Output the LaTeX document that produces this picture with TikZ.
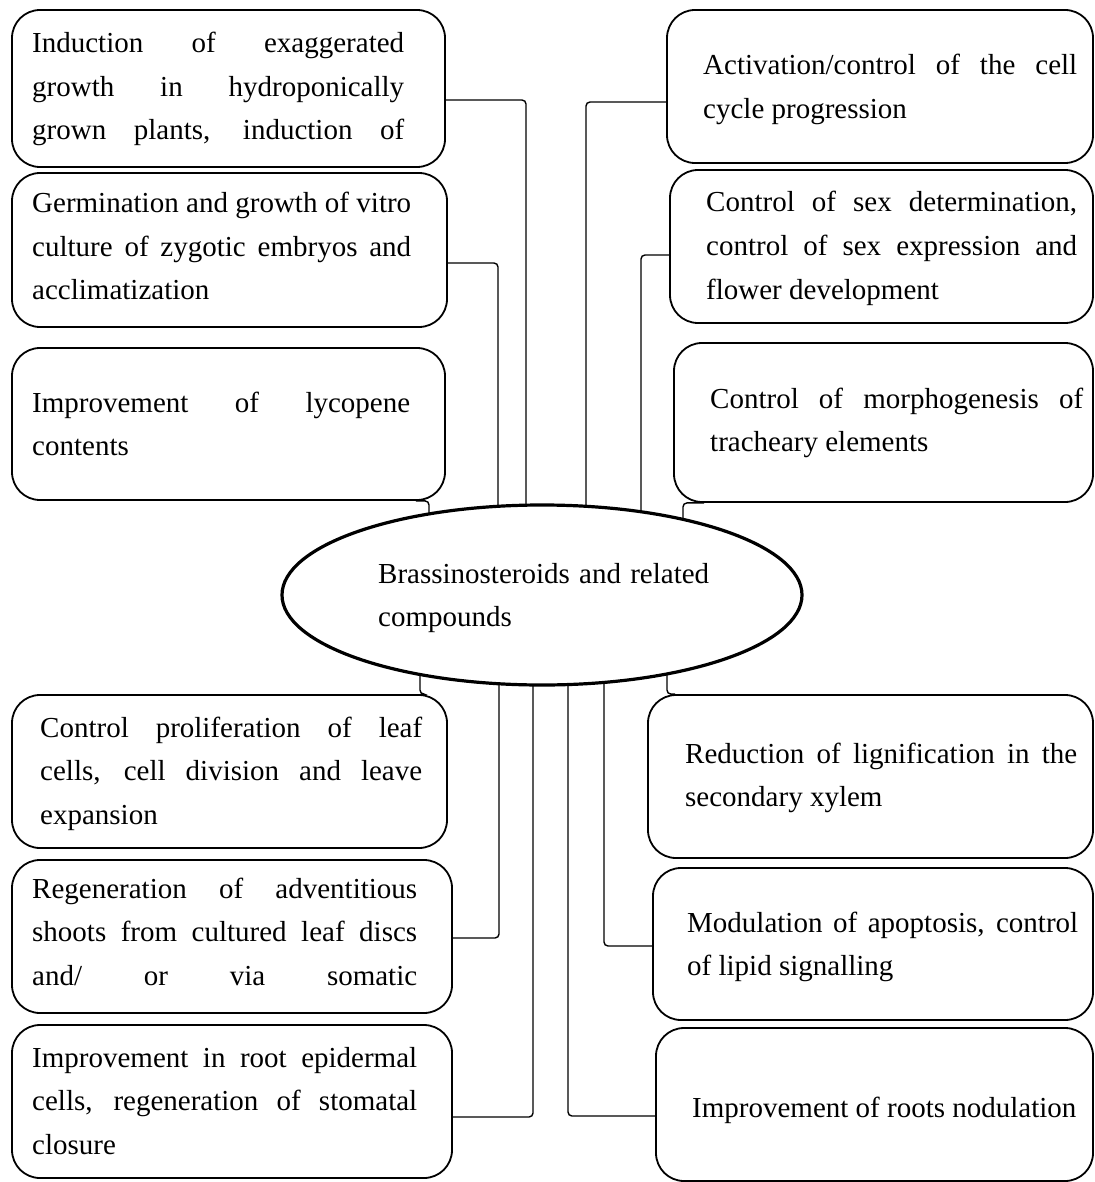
\documentclass[tikz,border=0pt]{standalone}
\usepackage{fontspec}
\setmainfont{Liberation Serif}
\usetikzlibrary{shapes.geometric}
\newcommand\JLine[2]{\hbox to #1{#2}}
\newcommand\LLine[1]{\hbox{#1}}
\newcommand\TxtLines[1]{\vtop{\baselineskip=43.5pt\lineskiplimit=-100pt\lineskip=0pt #1}}
\begin{document}
\begin{tikzpicture}[x=1pt,y=-1pt,
  box/.style={draw, line width=1.8pt, rounded corners=28pt, rectangle, inner sep=0pt},
  conn/.style={draw, line width=1.4pt, rounded corners=4pt},
  txt/.style={anchor=base west, inner sep=0pt, font=\fontsize{29}{43.5}\selectfont},
  oval/.style={draw, ellipse, line width=3.2pt, inner sep=0pt}]
\useasboundingbox (0,0) rectangle (1094,1182);
% left boxes
\node[box, minimum width=433pt, minimum height=157pt] (l1) at (228.5,88.5) {};
\node[box, minimum width=435pt, minimum height=154pt] (l2) at (229.5,250) {};
\node[box, minimum width=433pt, minimum height=152pt] (l3) at (228.5,424) {};
\node[box, minimum width=435pt, minimum height=153pt] (l4) at (229.5,771.5) {};
\node[box, minimum width=440pt, minimum height=153pt] (l5) at (232,936.5) {};
\node[box, minimum width=440pt, minimum height=153pt] (l6) at (232,1101.5) {};
% right boxes
\node[box, minimum width=426pt, minimum height=153pt] (r1) at (880,86.5) {};
\node[box, minimum width=423pt, minimum height=153pt] (r2) at (881.5,246.5) {};
\node[box, minimum width=419pt, minimum height=159pt] (r3) at (883.5,422.5) {};
\node[box, minimum width=445pt, minimum height=163pt] (r4) at (870.5,776.5) {};
\node[box, minimum width=440pt, minimum height=152pt] (r5) at (873,944) {};
\node[box, minimum width=437pt, minimum height=153pt] (r6) at (874.5,1104.5) {};
% central ellipse
\node[oval, minimum width=520pt, minimum height=180pt] (el) at (542,595) {};
% points on the ellipse
\coordinate (e1) at (526,505.2);
\coordinate (e2) at (498,506.3);
\coordinate (e3) at (429,514);
\coordinate (e4) at (586,506.3);
\coordinate (e5) at (641,511.8);
\coordinate (e6) at (683,519.4);
\coordinate (e7) at (420,674.5);
\coordinate (e8) at (499,683.8);
\coordinate (e9) at (533,685);
\coordinate (e10) at (568,684.5);
\coordinate (e11) at (604,682.4);
\coordinate (e12) at (667,673.9);
% connectors
\draw[conn] ([yshift=-11.5pt]l1.east) -| (e1);
\draw[conn] ([yshift=-13pt]l2.east) -| (e2);
\draw[conn] ([xshift=-30pt]l3.south east) -| (e3);
\draw[conn] ([yshift=-15.5pt]r1.west) -| (e4);
\draw[conn] ([yshift=-8.5pt]r2.west) -| (e5);
\draw[conn] ([xshift=31pt]r3.south west) -| (e6);
\draw[conn] ([xshift=-27pt]l4.north east) -| (e7);
\draw[conn] ([yshift=-1.5pt]l5.east) -| (e8);
\draw[conn] ([yshift=-15.5pt]l6.east) -| (e9);
\draw[conn] ([yshift=-11.5pt]r6.west) -| (e10);
\draw[conn] ([yshift=-2pt]r5.west) -| (e11);
\draw[conn] ([xshift=28pt]r4.north west) -| (e12);
% texts
\node[txt] (tl1) at (32,53) {\TxtLines{\JLine{372pt}{Induction of exaggerated}\JLine{372pt}{growth in hydroponically}\JLine{372pt}{grown plants, induction of}}};
\node[txt] (tl2) at (32,213) {\TxtLines{\JLine{379pt}{Germination and growth of vitro}\JLine{379pt}{culture of zygotic embryos and}\LLine{acclimatization}}};
\node[txt] (tl3) at (32,412) {\TxtLines{\JLine{378pt}{Improvement of lycopene}\LLine{contents}}};
\node[txt] (tl4) at (40,737) {\TxtLines{\JLine{382pt}{Control proliferation of leaf}\JLine{382pt}{cells, cell division and leave}\LLine{expansion}}};
\node[txt] (tl5) at (32,898) {\TxtLines{\JLine{385pt}{Regeneration of adventitious}\JLine{385pt}{shoots from cultured leaf discs}\JLine{385pt}{and/ or via somatic}}};
\node[txt] (tl6) at (32,1067) {\TxtLines{\JLine{385pt}{Improvement in root epidermal}\JLine{385pt}{cells, regeneration of stomatal}\LLine{closure}}};
\node[txt] (tr1) at (703,75) {\TxtLines{\JLine{374pt}{Activation/control of the cell}\LLine{cycle progression}}};
\node[txt] (tr2) at (706,212) {\TxtLines{\JLine{371pt}{Control of sex determination,}\JLine{371pt}{control of sex expression and}\LLine{flower development}}};
\node[txt] (tr3) at (710,408) {\TxtLines{\JLine{373pt}{Control of morphogenesis of}\LLine{tracheary elements}}};
\node[txt] (tr4) at (685,763) {\TxtLines{\JLine{392pt}{Reduction of lignification in the}\LLine{secondary xylem}}};
\node[txt] (tr5) at (687,932) {\TxtLines{\JLine{391pt}{Modulation of apoptosis, control}\LLine{of lipid signalling}}};
\node[txt] (tr6) at (692,1117) {\TxtLines{\LLine{Improvement of roots nodulation}}};
\node[txt] (tel) at (378,583) {\TxtLines{\JLine{331pt}{Brassinosteroids and related}\LLine{compounds}}};
\end{tikzpicture}
\end{document}
